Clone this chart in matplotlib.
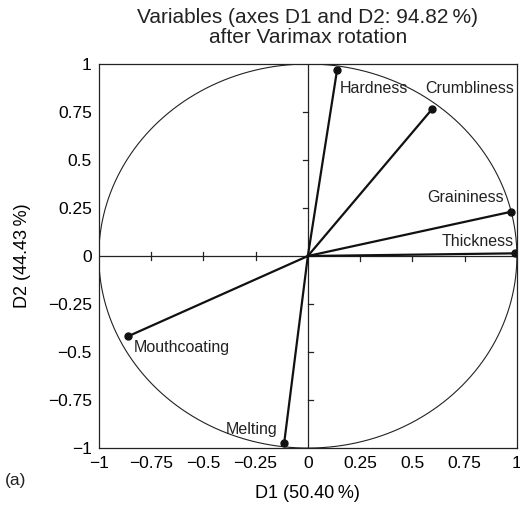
import matplotlib
matplotlib.use('Agg')
import matplotlib.pyplot as plt
import numpy as np

plt.rcParams['font.family'] = ['Liberation Sans', 'DejaVu Sans']
plt.rcParams['text.color'] = '#222222'

# loadings after varimax rotation
variables = ['Hardness', 'Crumbliness', 'Graininess', 'Thickness', 'Mouthcoating', 'Melting']
d1 = [0.14, 0.595, 0.97, 0.99, -0.858, -0.113]
d2 = [0.97, 0.766, 0.23, 0.014, -0.417, -0.972]

# label offsets (points) and alignment
label_pos = {
    'Hardness': (2, -8, 'left', 'top'),
    'Crumbliness': (-5, 9, 'left', 'bottom'),
    'Graininess': (-5, 5, 'right', 'bottom'),
    'Thickness': (-1, 3, 'right', 'bottom'),
    'Mouthcoating': (4, -3, 'left', 'top'),
    'Melting': (-5, 4, 'right', 'bottom'),
}

ticks = [-1, -0.75, -0.5, -0.25, 0, 0.25, 0.5, 0.75, 1]
tick_labels = ['\u22121', '\u22120.75', '\u22120.5', '\u22120.25', '0', '0.25', '0.5', '0.75', '1']

fig = plt.figure(figsize=(5.2, 5.08), dpi=100)
ax = fig.add_axes([0.19, 0.118, 0.804, 0.756])

# correlation circle
t = np.linspace(0, 2 * np.pi, 400)
ax.plot(np.cos(t), np.sin(t), color='#222222', lw=0.8)

# center axes
ax.axhline(0, color='#222222', lw=0.9)
ax.axvline(0, color='#222222', lw=0.9)
tl = 0.025
for v in ticks[1:-1]:
    if v == 0:
        continue
    if v < 0:
        ax.plot([v, v], [-0.02, 0.02], color='#222222', lw=0.9)
        ax.plot([0, tl], [v, v], color='#222222', lw=0.9)
    else:
        ax.plot([v, v], [0, -tl], color='#222222', lw=0.9)
        ax.plot([0, -tl], [v, v], color='#222222', lw=0.9)

# vectors
for name, x, y in zip(variables, d1, d2):
    ax.plot([0, x], [0, y], color='#111111', lw=1.6)
    ax.plot(x, y, 'o', color='#111111', ms=5)
    dx, dy, ha, va = label_pos[name]
    ax.annotate(name, (x, y), xytext=(dx, dy), textcoords='offset points',
                ha=ha, va=va, fontsize=11.5)

ax.set_xlim(-1, 1)
ax.set_ylim(-1, 1)
ax.set_xticks(ticks)
ax.set_xticklabels(tick_labels)
ax.set_yticks(ticks)
ax.set_yticklabels(tick_labels)
ax.tick_params(length=0, labelsize=12.5, pad=5)
ax.tick_params(axis='x', pad=6)
for s in ax.spines.values():
    s.set_linewidth(0.9)
    s.set_color('#222222')

ax.set_xlabel('D1 (50.40\u2009%)', fontsize=13, labelpad=10)
ax.set_ylabel('D2 (44.43\u2009%)', fontsize=13, labelpad=12)
ax.set_title('Variables (axes D1 and D2: 94.82\u2009%)\nafter Varimax rotation',
             fontsize=15, pad=15, linespacing=1.05)
fig.text(0.01, 0.045, '(a)', fontsize=12.5)

fig.savefig('out.png', dpi=100, facecolor='white')
